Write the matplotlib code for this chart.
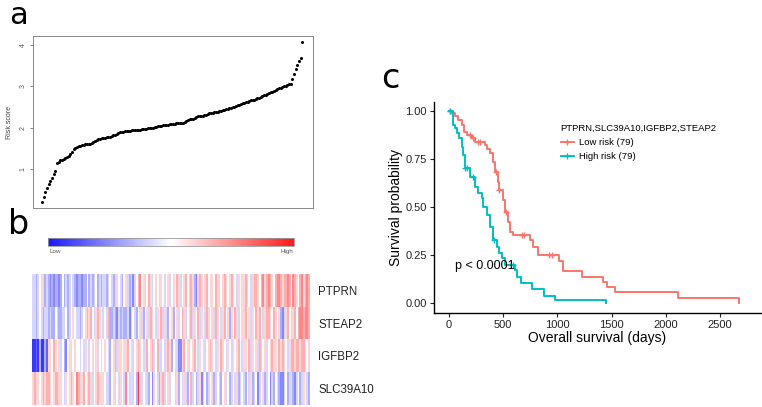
import numpy as np
import matplotlib.pyplot as plt
from matplotlib.colors import LinearSegmentedColormap, Normalize
from matplotlib.cm import ScalarMappable
from matplotlib.lines import Line2D

# ---- panel a: sorted risk scores (158 patients) ----
risk_score = [
    0.20, 0.32, 0.44, 0.54, 0.64, 0.70, 0.78, 0.86, 0.95, 1.13,
    1.17, 1.20, 1.22, 1.24, 1.26, 1.28, 1.31, 1.35, 1.40, 1.47,
    1.50, 1.52, 1.54, 1.55, 1.57, 1.58, 1.59, 1.60, 1.60, 1.61,
    1.63, 1.65, 1.67, 1.69, 1.71, 1.73, 1.74, 1.75, 1.75, 1.76,
    1.76, 1.77, 1.79, 1.81, 1.82, 1.84, 1.86, 1.88, 1.89, 1.90,
    1.91, 1.91, 1.92, 1.92, 1.93, 1.93, 1.94, 1.94, 1.95, 1.95,
    1.96, 1.96, 1.97, 1.97, 1.98, 1.98, 1.99, 2.00, 2.01, 2.02,
    2.03, 2.04, 2.04, 2.05, 2.06, 2.07, 2.07, 2.08, 2.08, 2.09,
    2.09, 2.10, 2.10, 2.11, 2.11, 2.12, 2.14, 2.16, 2.18, 2.20,
    2.21, 2.22, 2.24, 2.26, 2.27, 2.28, 2.28, 2.29, 2.30, 2.31,
    2.33, 2.35, 2.36, 2.36, 2.37, 2.38, 2.39, 2.40, 2.41, 2.42,
    2.43, 2.44, 2.45, 2.47, 2.48, 2.49, 2.50, 2.52, 2.54, 2.56,
    2.58, 2.59, 2.60, 2.61, 2.62, 2.64, 2.66, 2.67, 2.68, 2.70,
    2.72, 2.73, 2.75, 2.77, 2.78, 2.80, 2.82, 2.84, 2.86, 2.87,
    2.89, 2.91, 2.93, 2.95, 2.97, 2.98, 3.00, 3.02, 3.04, 3.05,
    3.07, 3.18, 3.30, 3.42, 3.52, 3.62, 3.68, 4.07,
]

# ---- panel b: expression levels (scaled), patients sorted by risk ----
genes = ["PTPRN", "STEAP2", "IGFBP2", "SLC39A10"]
ptprn = [
    -1, -1, -2, -1, 0, 1, -1, -2, -1, -2, -3, -2, -3, -2, -2, -3, -2, 0, -2, -1,
    -2, -1, 0, -1, -2, -3, -2, -2, -3, -2, -2, 0, -2, -1, -2, -1, 0, -2, -1, -2, -1,
    -1, -2, -1, 0, -1, -2, -1, 1, 0, -1, -2, 0, 1, -1, -2, -1, -3, -1, 0, 2,
    3, 0, 1, -1, 0, 2, 1, -1, 0, 1, 0, -1, 1, 0, -1, 0, 1, -1, 0,
    1, 0, 2, 1, -1, 0, 1, 2, 0, -1, 2, 1, -2, -3, 1, 2, 1, 0, 1, 2,
    0, 1, 1, 0, 2, 1, -1, 0, 1, 2, 1, 0, 1, 2, 1, 0, -1, 1, 0, 1,
    1, 2, 1, 0, -1, 1, 2, 2, 1, 0, 2, 3, 1, 2, 3, 2, 1, 0, 2, 3,
    3, 2, 1, 2, 2, 3, 2, 0, 3, 2, 1, 0, 2, 3, 1, 2, 3, 2,
]
steap2 = [
    -1, -1, -2, -1, 0, -1, -2, -1, -1, -2, -1, -2, -2, 0, -1, -2, -2, -1, -1, 0,
    -2, -1, 0, 1, 0, -1, -1, -2, -1, 0, 1, 2, 1, 2, 0, -1, 1, 2, 1, 0, -1,
    0, -1, 2, -2, -2, -1, -2, -3, -1, -2, -1, -2, -2, -1, -3, -1, 0, -1, -2, 0,
    1, -1, -2, 0, 1, -1, 2, 1, 0, -1, 1, 0, 2, -1, 1, -1, -2, 0, 1,
    -2, 0, 1, -1, 0, 2, 1, -1, 0, 1, 2, -1, 1, 0, 2, -1, 1, 0, -1, 2,
    1, 0, 1, -1, 2, 1, 0, -1, 1, 2, 0, 1, -2, 1, 0, 2, 1, -1, 0, 1,
    1, 2, 0, 1, -1, 1, 0, 2, 1, 2, 0, -1, 1, 2, 2, 1, 0, 2, 1, 0,
    1, -2, -3, -1, 1, 2, 0, -1, 1, 2, 0, 2, 3, 3, 2, 3, 3, 2,
]
igfbp2 = [
    -5, -5, -4, -5, -2, -5, -5, -2, -4, 1, 1, 0, 2, 1, 0, 1, -1, 0, -2, -3,
    0, 1, 1, 0, 1, 0, 0, -1, 0, -1, 1, 0, -1, 0, 1, 0, 1, -1, 0, 1, 0,
    1, 0, -1, -2, 0, 1, 2, -1, 1, 1, 0, 1, 1, 2, 0, 1, -1, 0, 1, 2,
    1, 0, -1, 1, 2, 0, 1, 2, -1, 0, 2, 1, -1, 0, -1, 1, 2, 1, -2,
    0, 1, -1, -3, -3, 1, 2, 0, 1, -1, 0, 1, 2, 0, -1, 1, 0, 1, -1, 0,
    1, 2, 1, 0, -1, 1, 0, 2, 1, 0, -1, 1, 0, -1, 1, 0, 1, 2, 0, -1,
    1, 1, 0, 2, -1, 1, 0, 1, -1, 2, 1, 0, 1, -1, 0, 1, 2, 1, 1, 0,
    2, 1, 2, 1, 0, -1, 1, 2, 2, 1, 2, 2, 1, 2, 2, 1, 0, 1,
]
slc39a10 = [
    1, 2, 1, 1, 0, 1, 2, 1, 2, 2, 1, 0, 1, 2, 2, 1, 1, 0, -1, 1,
    0, 1, 2, 1, 0, 3, 2, 1, 1, 2, 0, 1, 2, 1, -1, 0, 1, 2, 1, 1, 1,
    0, -1, -1, -2, 0, 1, -1, 0, -1, 1, 0, -1, 3, 0, -1, 1, -1, 0, -2, 5,
    1, -1, 0, 1, -1, -2, 0, -3, 1, 0, -1, -2, 1, 2, -1, 0, 1, -1, 0,
    0, -1, 1, -2, 0, -1, 1, -1, -2, 0, 2, -1, 0, -2, -1, 1, -3, -1, 0, -2,
    -1, 0, 1, -2, -1, 0, -1, -2, 0, 1, -1, 0, -2, -1, 0, -1, 1, -2, -1, 0,
    -1, -2, 0, -1, 1, -2, -1, 0, -3, -1, 0, 1, -2, -1, 0, -3, -1, -2, 0, 1,
    -2, -3, -3, -1, 0, -2, -1, 1, -2, -3, -1, 0, -2, -1, 1, 0, -1, -2,
]

# ---- panel c: Kaplan-Meier step values ----
low_times = [0, 20, 55, 86, 117, 138, 163, 209, 240, 332, 350, 378, 403, 424, 455,
             464, 495, 517, 548, 563, 593, 747, 778, 824, 1018, 1055, 1230, 1424,
             1455, 1531, 2116, 2675]
low_surv = [1.0, 0.99, 0.975, 0.95, 0.925, 0.89, 0.873, 0.86, 0.835, 0.82, 0.80,
            0.778, 0.734, 0.682, 0.63, 0.587, 0.535, 0.474, 0.422, 0.37, 0.353,
            0.327, 0.292, 0.248, 0.219, 0.166, 0.135, 0.109, 0.08, 0.054, 0.026, 0.0]
low_censor = [12, 194, 224, 270, 286, 430, 466, 526, 670, 692, 925, 946]

high_times = [0, 34, 55, 76, 95, 117, 132, 147, 194, 240, 270, 301, 317, 347, 378,
              409, 440, 464, 486, 517, 609, 630, 660, 770, 875, 975, 1445]
high_surv = [1.0, 0.925, 0.908, 0.882, 0.856, 0.813, 0.769, 0.70, 0.656, 0.604,
             0.57, 0.544, 0.5, 0.457, 0.396, 0.327, 0.292, 0.257, 0.231, 0.196,
             0.17, 0.135, 0.105, 0.07, 0.035, 0.013, 0.0]
high_censor = [12, 148, 163, 224, 415, 593]

RED = "#F8766D"
CYAN = "#00BFC4"
W, H = 762, 407


def fx(px):
    return px / W


def fy(py):
    return 1 - py / H


def surv_at(times, surv, t):
    idx = np.searchsorted(times, t, side="right") - 1
    return np.asarray(surv)[idx]


fig = plt.figure(figsize=(W / 100, H / 100), dpi=100)
plt.rcParams["font.family"] = ["Liberation Sans", "DejaVu Sans"]

# ---- a ----
ax_a = fig.add_axes([fx(33), fy(208), fx(313 - 33), (208 - 36) / H])
ax_a.plot(np.arange(len(risk_score)), risk_score, "o", color="black",
          markersize=2.2, markeredgewidth=0)
ax_a.set_xlim(-5.5, 163.5)
ax_a.set_ylim(0.045, 4.225)
ax_a.set_xticks([])
ax_a.set_yticks([1, 2, 3, 4])
ax_a.tick_params(axis="y", labelsize=5, length=2.5, width=0.5, colors="#555555",
                 pad=2)
for lab in ax_a.get_yticklabels():
    lab.set_rotation(90)
    lab.set_va("center")
ax_a.set_ylabel("Risk score", fontsize=5, color="#444444", labelpad=5)
for sp in ax_a.spines.values():
    sp.set_color("#888888")
    sp.set_linewidth(0.7)

# ---- b ----
cmap = LinearSegmentedColormap.from_list("bwr2", ["#1a1aff", "white", "#ff1a1a"])
ax_b = fig.add_axes([fx(32), fy(405), fx(310 - 32), (405 - 274) / H])
mat = np.array([ptprn, steap2, igfbp2, slc39a10], dtype=float)
ax_b.imshow(mat, cmap=cmap, vmin=-5.8, vmax=5.8, aspect="auto",
            interpolation="nearest")
ax_b.set_xticks([])
ax_b.yaxis.tick_right()
ax_b.set_yticks(range(len(genes)))
ax_b.set_yticklabels(genes, fontsize=8.3, color="#222222")
ax_b.tick_params(axis="y", length=0, pad=6)
for sp in ax_b.spines.values():
    sp.set_visible(False)

cax = fig.add_axes([fx(48), fy(246), fx(294 - 48), 8 / H])
cb = fig.colorbar(ScalarMappable(norm=Normalize(-1, 1), cmap=cmap), cax=cax,
                  orientation="horizontal")
cb.set_ticks([])
cb.outline.set_edgecolor("#999999")
cb.outline.set_linewidth(0.6)
fig.text(fx(49), fy(249), "Low", fontsize=4.5, color="#555555", va="top", ha="left")
fig.text(fx(293), fy(249), "High", fontsize=4.5, color="#555555", va="top", ha="right")

# ---- c ----
ax_c = fig.add_axes([fx(434), fy(312.7), fx(761 - 434), (312.7 - 101.7) / H])
for times, surv, cens, col in [(low_times, low_surv, low_censor, RED),
                               (high_times, high_surv, high_censor, CYAN)]:
    ax_c.step(times, surv, where="post", color=col, lw=1.4)
    ax_c.plot(cens, surv_at(times, surv, cens), "+", color=col,
              markersize=5, markeredgewidth=1.0)
ax_c.set_xlim(-138, 2878)
ax_c.set_ylim(-0.052, 1.047)
ax_c.set_xticks([0, 500, 1000, 1500, 2000, 2500])
ax_c.set_yticks([0, 0.25, 0.5, 0.75, 1.0])
ax_c.set_yticklabels(["0.00", "0.25", "0.50", "0.75", "1.00"])
ax_c.tick_params(labelsize=8, length=3, width=0.8, colors="#222222", pad=2)
ax_c.spines["top"].set_visible(False)
ax_c.spines["right"].set_visible(False)
for sp in ("left", "bottom"):
    ax_c.spines[sp].set_linewidth(1.0)
ax_c.set_xlabel("Overall survival (days)", fontsize=10, labelpad=1)
ax_c.set_ylabel("Survival probability", fontsize=10, labelpad=2)
ax_c.text(55, 0.193, "p < 0.0001", fontsize=9, ha="left", va="center")

handles = [Line2D([], [], color=RED, lw=1.4, marker="+", markersize=5),
           Line2D([], [], color=CYAN, lw=1.4, marker="+", markersize=5)]
leg = ax_c.legend(handles, ["Low risk (79)", "High risk (79)"],
                  title="PTPRN,SLC39A10,IGFBP2,STEAP2", fontsize=6.8,
                  title_fontsize=6.8, frameon=False, loc="upper left",
                  bbox_to_anchor=(fx(556), fy(119)),
                  bbox_transform=fig.transFigure, borderpad=0,
                  handlelength=1.4, handletextpad=0.5, labelspacing=0.55,
                  alignment="left")

# panel letters
fig.text(fx(9), fy(1), "a", fontsize=22, family="DejaVu Sans", va="top")
fig.text(fx(8), fy(208), "b", fontsize=24, family="DejaVu Sans", va="top")
fig.text(fx(381), fy(62), "c", fontsize=24, family="DejaVu Sans", va="top")

fig.savefig("out.png", dpi=100)
